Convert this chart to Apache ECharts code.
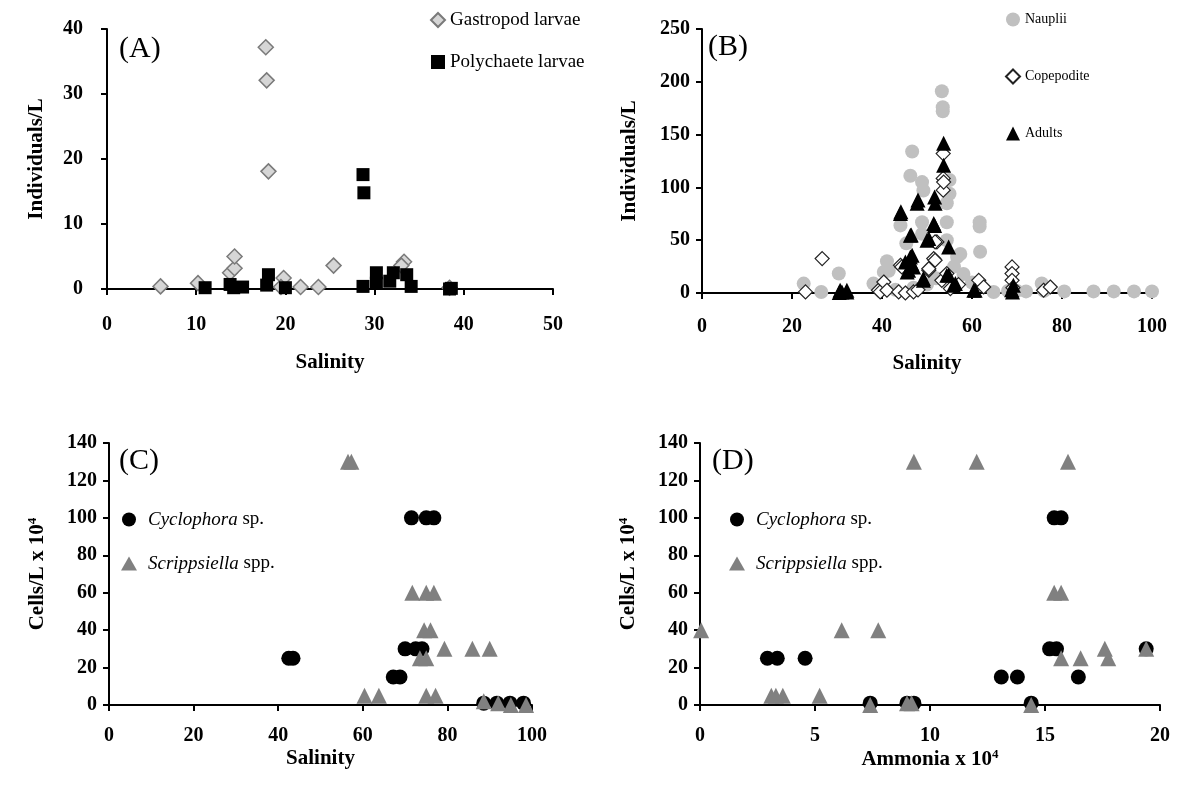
<!DOCTYPE html>
<html>
<head>
<meta charset="utf-8">
<script src="https://cdn.jsdelivr.net/npm/echarts@6/dist/echarts.min.js"></script>
<style>
  html, body { margin: 0; padding: 0; background: #fff; }
  #chart { width: 1189px; height: 791px; }
</style>
</head>
<body>
<div id="chart"></div>
<script>
// Panel A: larvae abundance vs salinity
const gastropodLarvae = [
  [6, 0.4], [10.2, 0.9], [13.8, 2.5], [14.3, 3.2], [14.3, 5.0], [17.8, 37.2], [17.9, 32.1],
  [18.1, 18.1], [19.8, 1.7], [19.5, 0.3], [21.7, 0.3], [23.7, 0.3], [25.4, 3.6], [33.3, 4.2],
  [33.0, 3.6], [38.4, 0.2]
];
const polychaeteLarvae = [
  [11, 0.2], [13.8, 0.7], [14.2, 0.2], [15.2, 0.3], [18.1, 2.2], [17.9, 0.6], [20, 0.2],
  [28.7, 17.6], [28.8, 14.8], [28.7, 0.4], [30.2, 2.5], [30.2, 0.9], [32.1, 2.5], [31.7, 1.2],
  [33.6, 2.2], [34.1, 0.4], [38.4, 0], [38.6, 0.1]
];

// Panel B: copepod stages vs salinity
const nauplii = [
  [22.6, 8.9], [26.5, 1], [30.4, 18.4], [38.1, 8.9], [40.4, 20], [41.1, 30], [41.5, 21],
  [44.1, 64], [45.4, 47], [46.7, 134], [46.3, 111], [48.9, 105], [49.2, 97], [48.9, 67],
  [48.9, 56], [53.3, 191], [53.5, 176], [53.5, 172], [55, 107], [55, 94], [54.4, 85],
  [54.4, 67], [54.4, 50], [56.7, 34], [57.4, 37], [58.1, 18], [61.7, 67], [61.7, 63],
  [61.8, 39], [64.8, 1], [72, 1.5], [75.5, 9], [76, 2], [80.5, 1.5], [87, 1.5], [91.5, 1.5],
  [96, 1.5], [100, 1.5], [43, 3], [47, 5], [50, 8], [52, 14], [56, 25], [60, 10], [68, 2], [70, 2]
];
const copepodite = [
  [23, 1], [26.7, 32.6], [39.2, 2.6], [39.6, 1], [40.4, 10.4], [41.1, 2.6], [43.7, 1],
  [44.1, 26.3], [44.4, 24.7], [45.2, 0], [47, 1], [48, 3], [50.4, 21.5], [50.4, 23],
  [51.5, 32.6], [51.8, 31], [52.2, 48.4], [51.8, 48.4], [53.3, 12], [53.6, 132], [53.6, 108.5],
  [53.6, 97.4], [53.7, 105], [54.4, 18.4], [55.2, 4.2], [57, 8], [61.5, 12], [62.6, 5.7],
  [68.9, 24.7], [68.9, 18.4], [68.9, 12], [69.1, 5], [75.9, 2.6], [77.4, 5.7]
];
const adults = [
  [30.5, 0.5], [31.1, 1], [30.7, 2.6], [32.2, 1], [32.2, 2.6], [44.1, 75.3], [44.2, 77],
  [47.8, 85], [48, 88], [51.7, 91], [51.8, 85], [53.7, 141.7], [53.7, 121], [51.5, 65.8],
  [51.7, 64], [46.3, 54.7], [46.5, 55], [50, 50], [50.4, 51.6], [54.8, 43.6], [46.7, 35.8],
  [46.3, 34], [45.2, 29.4], [46.6, 28], [47, 24.7], [45.6, 19.9], [45.9, 21.5], [49.2, 13.7],
  [49.2, 12], [54.4, 16.8], [54.8, 17], [55.9, 7.3], [56.3, 8.9], [60.4, 2.6], [60.7, 2.6],
  [69.2, 7.3], [68.8, 3], [69, 1]
];

// Panel C: dinoflagellate cells vs salinity
const cyclophoraSalinity = [
  [42.5, 25], [43.5, 25], [71.5, 100], [75, 100], [76.8, 100], [70, 30], [72.5, 30], [74, 30],
  [67.2, 15], [68.8, 15], [88.6, 1], [91.7, 1], [94.8, 1], [98, 1]
];
const scrippsiellaSalinity = [
  [56.5, 130], [57.3, 130], [71.7, 60], [75, 60], [76.8, 60], [74.5, 40], [76, 40], [73.5, 25],
  [75, 25], [79.3, 30], [85.9, 30], [90, 30], [60.4, 5], [63.8, 5], [75, 5], [77.2, 5],
  [88.6, 2], [92, 1], [95, 0], [98.6, 0]
];

// Panel D: dinoflagellate cells vs ammonia
const cyclophoraAmmonia = [
  [2.93, 25], [3.36, 25], [4.57, 25], [7.4, 1], [9.0, 1], [9.3, 1], [15.4, 100], [15.7, 100],
  [15.2, 30], [15.5, 30], [13.1, 15], [13.8, 15], [16.45, 15], [14.4, 1], [19.4, 30]
];
const scrippsiellaAmmonia = [
  [0.05, 40], [6.16, 40], [7.75, 40], [9.3, 130], [12.03, 130], [16.0, 130], [15.4, 60],
  [15.7, 60], [15.7, 25], [16.55, 25], [17.6, 30], [17.75, 25], [3.1, 5], [3.3, 5], [3.6, 5],
  [5.2, 5], [7.4, 0], [9.0, 1], [9.2, 1], [14.4, 0], [19.4, 30]
];

const panelLabels = ['(A)', '(B)', '(C)', '(D)'];

const SERIF = '"Liberation Serif", "Times New Roman", serif';

function axisBase(extra, labelMargin) {
  return Object.assign({
    type: 'value',
    nameLocation: 'middle',
    nameMoveOverlap: false,
    nameTextStyle: { fontFamily: SERIF, fontWeight: 'bold', fontSize: 21, color: '#000',
      rich: { sup: { fontFamily: SERIF, fontWeight: 'bold', fontSize: 13, color: '#000', verticalAlign: 'top', padding: [0, 0, 10, 0] } } },
    axisLine: { show: true, onZero: false, lineStyle: { color: '#000', width: 2 } },
    axisTick: { show: true, length: 6, lineStyle: { color: '#000', width: 2 } },
    splitLine: { show: false },
    axisLabel: { fontFamily: SERIF, fontWeight: 'bold', fontSize: 20, color: '#000', margin: labelMargin }
  }, extra);
}

// italic genus names in the dinoflagellate legends
const speciesLegendText = {
  fontFamily: SERIF, fontSize: 19, color: '#000', lineHeight: 19,
  rich: {
    i: { fontFamily: SERIF, fontStyle: 'italic', fontSize: 19, color: '#000', padding: [0, 0, 0, 6] }
  }
};
const speciesFormatter = n => n === 'Cyclophora sp.' ? '{i|Cyclophora} sp.' : '{i|Scrippsiella} spp.';

const option = {
  animation: false,
  backgroundColor: '#fff',
  title: [
    { text: panelLabels[0], left: 119, top: 34 },
    { text: panelLabels[1], left: 708, top: 32 },
    { text: panelLabels[2], left: 119, top: 446 },
    { text: panelLabels[3], left: 712, top: 446 }
  ].map(t => Object.assign(t, { padding: 0, textStyle: { fontFamily: SERIF, fontWeight: 'normal', fontSize: 30, color: '#000' } })),
  grid: [
    { left: 107, top: 29, width: 446, height: 260 },
    { left: 702, top: 29, width: 450, height: 264 },
    { left: 109, top: 443, width: 423, height: 262 },
    { left: 700, top: 443, width: 460, height: 262 }
  ],
  xAxis: [
    axisBase({ gridIndex: 0, min: 0, max: 50, interval: 10, name: 'Salinity', nameGap: 63 }, 26),
    axisBase({ gridIndex: 1, min: 0, max: 100, interval: 20, name: 'Salinity', nameGap: 60 }, 24),
    axisBase({ gridIndex: 2, min: 0, max: 100, interval: 20, name: 'Salinity', nameGap: 43 }, 21),
    axisBase({ gridIndex: 3, min: 0, max: 20, interval: 5, name: 'Ammonia x 10{sup|4}', nameGap: 43 }, 21)
  ],
  yAxis: [
    axisBase({ gridIndex: 0, min: 0, max: 40, interval: 10, name: 'Individuals/L', nameGap: 60 }, 24),
    axisBase({ gridIndex: 1, min: 0, max: 250, interval: 50, name: 'Individuals/L', nameGap: 62 }, 12),
    axisBase({ gridIndex: 2, min: 0, max: 140, interval: 20, name: 'Cells/L x 10{sup|4}', nameGap: 60 }, 12),
    axisBase({ gridIndex: 3, min: 0, max: 140, interval: 20, name: 'Cells/L x 10{sup|4}', nameGap: 60 }, 12)
  ],
  legend: [
    {
      data: ['Gastropod larvae', 'Polychaete larvae'], orient: 'vertical', left: 425, top: 5,
      itemWidth: 14, itemHeight: 14, itemGap: 22, selectedMode: false,
      textStyle: { fontFamily: SERIF, fontSize: 19, color: '#000', lineHeight: 20 }
    },
    {
      data: ['Nauplii', 'Copepodite', 'Adults'], orient: 'vertical', left: 1000, top: 6,
      itemWidth: 14, itemHeight: 14, itemGap: 40, selectedMode: false,
      textStyle: { fontFamily: SERIF, fontSize: 14, color: '#000', lineHeight: 17 }
    },
    {
      data: ['Cyclophora sp.', 'Scrippsiella spp.'], orient: 'vertical', left: 116, top: 505,
      itemWidth: 16, itemHeight: 14, itemGap: 25, selectedMode: false,
      formatter: speciesFormatter, textStyle: speciesLegendText
    },
    {
      data: ['Cyclophora sp.', 'Scrippsiella spp.'], orient: 'vertical', left: 724, top: 505,
      itemWidth: 16, itemHeight: 14, itemGap: 25, selectedMode: false,
      formatter: speciesFormatter, textStyle: speciesLegendText
    }
  ],
  series: [
    { name: 'Gastropod larvae', type: 'scatter', xAxisIndex: 0, yAxisIndex: 0, data: gastropodLarvae,
      symbol: 'diamond', symbolSize: 15, clip: false,
      itemStyle: { color: '#d6d6d6', borderColor: '#7a7a7a', borderWidth: 1.5, opacity: 1 } },
    { name: 'Polychaete larvae', type: 'scatter', xAxisIndex: 0, yAxisIndex: 0, data: polychaeteLarvae,
      symbol: 'rect', symbolSize: 13, clip: false, itemStyle: { color: '#000', opacity: 1 } },

    { name: 'Nauplii', type: 'scatter', xAxisIndex: 1, yAxisIndex: 1, data: nauplii,
      symbol: 'circle', symbolSize: 14, clip: false, itemStyle: { color: '#c0c0c0', opacity: 1 } },
    { name: 'Copepodite', type: 'scatter', xAxisIndex: 1, yAxisIndex: 1, data: copepodite,
      symbol: 'diamond', symbolSize: 14, clip: false,
      itemStyle: { color: '#fff', borderColor: '#222', borderWidth: 1.2, opacity: 1 } },
    { name: 'Adults', type: 'scatter', xAxisIndex: 1, yAxisIndex: 1, data: adults,
      symbol: 'triangle', symbolSize: 15, clip: false, itemStyle: { color: '#000', opacity: 1 } },

    { name: 'Cyclophora sp.', type: 'scatter', xAxisIndex: 2, yAxisIndex: 2, data: cyclophoraSalinity,
      symbol: 'circle', symbolSize: 15, clip: false, itemStyle: { color: '#000', opacity: 1 } },
    { name: 'Scrippsiella spp.', type: 'scatter', xAxisIndex: 2, yAxisIndex: 2, data: scrippsiellaSalinity,
      symbol: 'triangle', symbolSize: 16, clip: false, itemStyle: { color: '#808080', opacity: 1 } },

    { name: 'Cyclophora sp.', type: 'scatter', xAxisIndex: 3, yAxisIndex: 3, data: cyclophoraAmmonia,
      symbol: 'circle', symbolSize: 15, clip: false, itemStyle: { color: '#000', opacity: 1 } },
    { name: 'Scrippsiella spp.', type: 'scatter', xAxisIndex: 3, yAxisIndex: 3, data: scrippsiellaAmmonia,
      symbol: 'triangle', symbolSize: 16, clip: false, itemStyle: { color: '#808080', opacity: 1 } }
  ]
};

const chart = echarts.init(document.getElementById('chart'), null, { renderer: 'canvas' });
chart.setOption(option);
</script>
</body>
</html>
